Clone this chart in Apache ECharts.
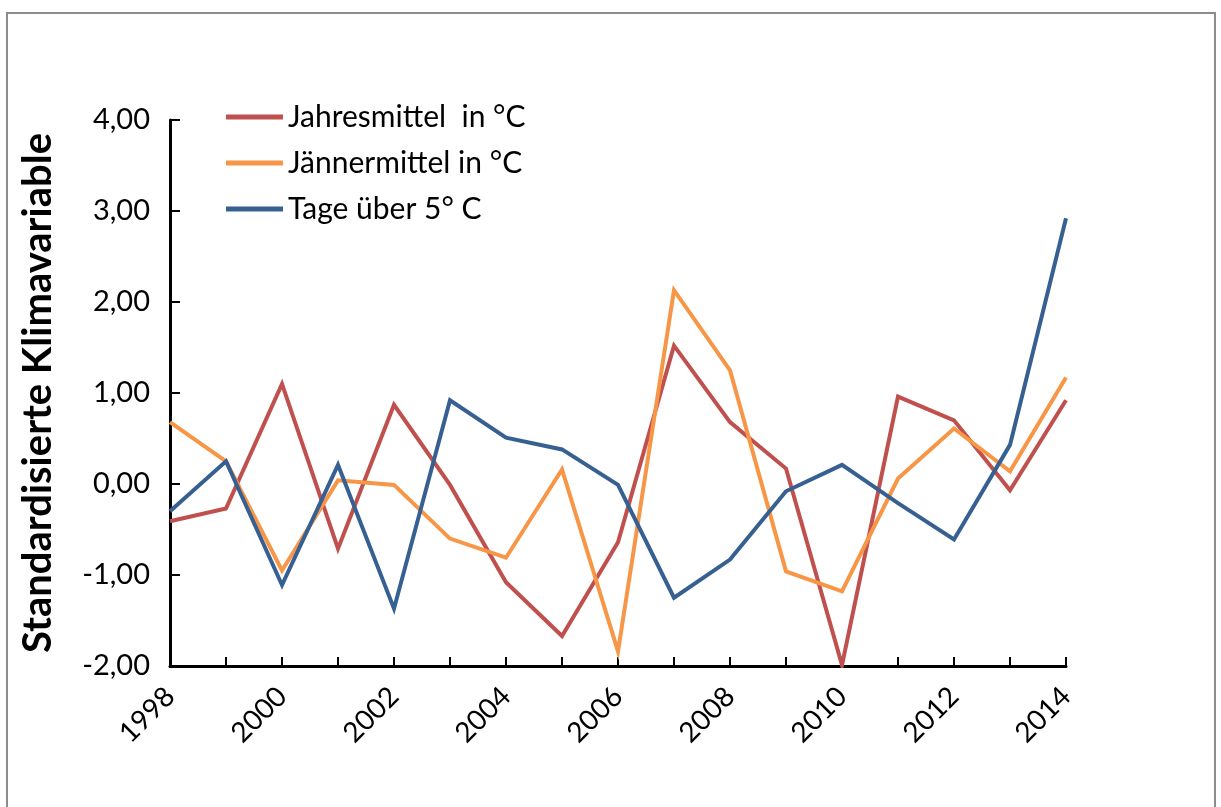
<!DOCTYPE html>
<html>
<head>
<meta charset="utf-8">
<script src="https://cdn.jsdelivr.net/npm/echarts@6/dist/echarts.min.js"></script>
<style>
html,body{margin:0;padding:0;background:#fff;}
#frame{position:absolute;left:6px;top:12px;width:1210px;height:820px;border:2px solid #8c8c8c;box-sizing:border-box;}
#chart{position:absolute;left:0;top:0;width:1221px;height:807px;}
</style>
</head>
<body>
<div id="frame"></div>
<div id="chart"></div>
<script>
const years = ['1998','1999','2000','2001','2002','2003','2004','2005','2006','2007','2008','2009','2010','2011','2012','2013','2014'];
const jahresmittel = [-0.41,-0.27,1.10,-0.71,0.87,-0.01,-1.08,-1.67,-0.64,1.52,0.68,0.17,-1.99,0.96,0.70,-0.07,0.92];
const jaennermittel = [0.68,0.25,-0.95,0.04,-0.01,-0.60,-0.81,0.16,-1.84,2.13,1.25,-0.96,-1.18,0.06,0.61,0.14,1.17];
const tageUeber5 = [-0.30,0.25,-1.11,0.21,-1.37,0.92,0.51,0.38,-0.01,-1.25,-0.83,-0.08,0.21,-0.21,-0.61,0.43,2.92];
const seriesNames = ['Jahresmittel  in °C','Jännermittel in °C','Tage über 5° C'];
const colors = ['#C0504D','#F79646','#376092'];
const yTitle = 'Standardisierte Klimavariable';

const chart = echarts.init(document.getElementById('chart'), null, {renderer:'canvas'});
const font = 'Lato, "Open Sans", sans-serif';
const mk = (name, data, color) => ({
  name, type:'line', data, symbol:'none', smooth:false,
  lineStyle:{color, width:4, join:'miter'}, itemStyle:{color}, z:3
});
chart.setOption({
  animation:false,
  backgroundColor:'transparent',
  textStyle:{fontFamily:font},
  legend:{
    orient:'vertical', left:226, top:102, itemGap:16, padding:0,
    icon:'rect', itemWidth:57, itemHeight:5,
    textStyle:{fontSize:30, color:'#000', fontFamily:font},
    data:seriesNames
  },
  grid:{left:170, right:155, top:120, bottom:141, containLabel:false},
  xAxis:{
    type:'category', data:years, boundaryGap:false,
    axisLine:{onZero:false, lineStyle:{color:'#000', width:3}},
    axisTick:{show:true, inside:true, length:9, interval:0, lineStyle:{color:'#000', width:2}},
    axisLabel:{interval:1, rotate:45, fontSize:28, color:'#000', margin:26, fontFamily:font},
    splitLine:{show:false}
  },
  yAxis:{
    type:'value', min:-2, max:4, interval:1,
    name:yTitle, nameLocation:'middle', nameGap:112, nameRotate:90,
    nameTextStyle:{fontSize:40, fontWeight:'bold', color:'#000', fontFamily:font},
    axisLine:{show:true, lineStyle:{color:'#000', width:3}},
    axisTick:{show:true, inside:true, length:10, lineStyle:{color:'#000', width:2}},
    axisLabel:{fontSize:29, color:'#000', margin:20, fontFamily:font,
      formatter:v => v.toFixed(2).replace('.', ',')},
    splitLine:{show:false}
  },
  series:[
    mk(seriesNames[0], jahresmittel, colors[0]),
    mk(seriesNames[1], jaennermittel, colors[1]),
    mk(seriesNames[2], tageUeber5, colors[2])
  ]
});
</script>
</body>
</html>
